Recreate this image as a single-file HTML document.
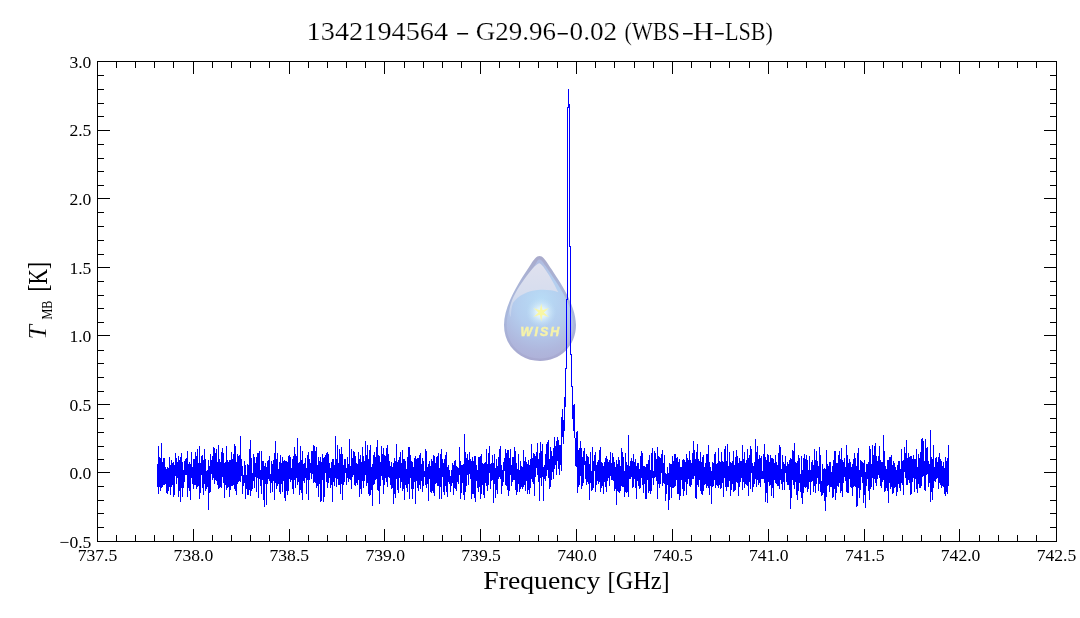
<!DOCTYPE html><html><head><meta charset="utf-8"><style>html,body{margin:0;padding:0;background:#fff;width:1080px;height:618px;overflow:hidden}</style></head><body><svg width="1080" height="618" viewBox="0 0 1080 618" style="display:block;will-change:transform"><rect width="1080" height="618" fill="#fff"/><g>
<defs>
<linearGradient id="lgo" x1="0" y1="256" x2="0" y2="361" gradientUnits="userSpaceOnUse">
<stop offset="0" stop-color="#a9aacb"/><stop offset="0.25" stop-color="#aab4d6"/><stop offset="0.55" stop-color="#a9b8dc"/><stop offset="1" stop-color="#a8a9d0"/>
</linearGradient>
<linearGradient id="lgh" x1="0" y1="262" x2="0" y2="315" gradientUnits="userSpaceOnUse">
<stop offset="0" stop-color="#e0e1ee"/><stop offset="0.6" stop-color="#d6ddee"/><stop offset="1" stop-color="#c4d2ec"/>
</linearGradient>
<radialGradient id="rgc" cx="541" cy="305" r="58" fx="541" fy="300" gradientUnits="userSpaceOnUse">
<stop offset="0" stop-color="#b8dcf6"/><stop offset="0.45" stop-color="#b4cdee"/><stop offset="0.8" stop-color="#afb7dd"/><stop offset="1" stop-color="#aeafd6"/>
</radialGradient>
<radialGradient id="rgs" cx="541.2" cy="312.5" r="15" gradientUnits="userSpaceOnUse">
<stop offset="0" stop-color="#f6fbf0"/><stop offset="0.35" stop-color="#e2f3fa" stop-opacity="0.9"/><stop offset="1" stop-color="#c0e0f8" stop-opacity="0"/>
</radialGradient>
<filter id="fb" x="-20%" y="-20%" width="140%" height="140%"><feGaussianBlur stdDeviation="0.7"/></filter>
<filter id="fb2" x="-20%" y="-20%" width="140%" height="140%"><feGaussianBlur stdDeviation="0.35"/></filter>
</defs>
<path d="M539.5 256 C542.5 256 545 259.5 548 264 C558 279 576 304 576 325 C576 346 560 361 540 361 C520 361 504 346 504 325 C504 304 521 279 531 264 C534 259.5 536.5 256 539.5 256 Z" fill="url(#lgo)"/>
<path d="M539.5 259.4 C541.5 259.4 543 262 545.6 266 C555 280.5 573.4 304 573.4 325 C573.4 344.5 558.5 358.4 540 358.4 C521.5 358.4 506.6 344.5 506.6 325 C506.6 304 525 280.5 534.4 266 C537 262 537.5 259.4 539.5 259.4 Z" fill="url(#rgc)"/>
<path d="M539.3 263.2 C542 263.2 551.5 278 558.3 292.3 C553 290 546 289.5 540 289.8 C528 290.3 517.5 296 513 303 C511.5 307 511 312 510.8 317 C509.8 316 509.4 314 509.4 311 C510 302 516 291 522 282.5 C528.5 273 536.5 263.2 539.3 263.2 Z" fill="url(#lgh)" filter="url(#fb)"/>
<circle cx="541.2" cy="312.5" r="15" fill="url(#rgs)"/>
<path d="M541.20 303.50 L542.55 310.16 L548.99 308.00 L543.90 312.50 L548.99 317.00 L542.55 314.84 L541.20 321.50 L539.85 314.84 L533.41 317.00 L538.50 312.50 L533.41 308.00 L539.85 310.16 Z" fill="#f9f7a4" filter="url(#fb2)"/>
<text x="520.6" y="335.8" font-family="Liberation Sans" font-weight="bold" font-style="italic" font-size="12.4" fill="#f6f2aa" stroke="#f6f2aa" stroke-width="0.5" letter-spacing="2" textLength="40.6" lengthAdjust="spacing" filter="url(#fb2)">WISH</text>
</g><path fill="#0000ff" d="M157 464h1V487h-1zM158 446h1V494h-1zM159 457h1V487h-1zM160 458h1V491h-1zM161 443h1V488h-1zM162 462h1V487h-1zM163 458h1V485h-1zM164 458h1V485h-1zM165 467h1V484h-1zM166 469h1V493h-1zM167 467h1V494h-1zM168 468h1V491h-1zM169 457h1V487h-1zM170 465h1V495h-1zM171 460h1V487h-1zM172 463h1V485h-1zM173 462h1V497h-1zM174 465h1V495h-1zM175 453h1V476h-1zM176 458h1V484h-1zM177 462h1V478h-1zM178 456h1V497h-1zM179 460h1V491h-1zM180 457h1V502h-1zM181 453h1V488h-1zM182 462h1V497h-1zM183 470h1V488h-1zM184 461h1V482h-1zM185 459h1V475h-1zM186 458h1V475h-1zM187 451h1V497h-1zM188 464h1V488h-1zM189 462h1V491h-1zM190 464h1V500h-1zM191 452h1V478h-1zM192 467h1V484h-1zM193 459h1V489h-1zM194 459h1V485h-1zM195 452h1V485h-1zM196 456h1V489h-1zM197 449h1V487h-1zM198 463h1V486h-1zM199 446h1V499h-1zM200 463h1V493h-1zM201 456h1V475h-1zM202 455h1V488h-1zM203 460h1V495h-1zM204 449h1V484h-1zM205 459h1V491h-1zM206 471h1V489h-1zM207 470h1V487h-1zM208 460h1V510h-1zM209 466h1V493h-1zM210 454h1V492h-1zM211 460h1V474h-1zM212 456h1V480h-1zM213 447h1V478h-1zM214 448h1V484h-1zM215 453h1V480h-1zM216 449h1V481h-1zM217 462h1V485h-1zM218 445h1V489h-1zM219 459h1V488h-1zM220 462h1V487h-1zM221 452h1V488h-1zM222 448h1V477h-1zM223 453h1V483h-1zM224 463h1V498h-1zM225 462h1V485h-1zM226 446h1V490h-1zM227 460h1V488h-1zM228 462h1V487h-1zM229 460h1V497h-1zM230 460h1V490h-1zM231 452h1V486h-1zM232 459h1V486h-1zM233 454h1V485h-1zM234 444h1V489h-1zM235 446h1V491h-1zM236 462h1V495h-1zM237 454h1V484h-1zM238 456h1V482h-1zM239 455h1V481h-1zM240 436h1V482h-1zM241 459h1V476h-1zM242 466h1V494h-1zM243 475h1V486h-1zM244 461h1V483h-1zM245 465h1V499h-1zM246 475h1V489h-1zM247 464h1V495h-1zM248 465h1V495h-1zM249 449h1V490h-1zM250 440h1V496h-1zM251 458h1V491h-1zM252 473h1V489h-1zM253 454h1V481h-1zM254 457h1V488h-1zM255 463h1V477h-1zM256 457h1V492h-1zM257 453h1V478h-1zM258 453h1V498h-1zM259 451h1V479h-1zM260 470h1V486h-1zM261 451h1V494h-1zM262 461h1V480h-1zM263 461h1V500h-1zM264 466h1V507h-1zM265 463h1V484h-1zM266 467h1V505h-1zM267 461h1V484h-1zM268 460h1V479h-1zM269 456h1V481h-1zM270 474h1V493h-1zM271 461h1V483h-1zM272 464h1V492h-1zM273 460h1V481h-1zM274 453h1V500h-1zM275 441h1V483h-1zM276 459h1V489h-1zM277 453h1V486h-1zM278 469h1V484h-1zM279 462h1V492h-1zM280 455h1V494h-1zM281 463h1V484h-1zM282 457h1V492h-1zM283 461h1V481h-1zM284 460h1V498h-1zM285 461h1V501h-1zM286 461h1V491h-1zM287 462h1V495h-1zM288 456h1V491h-1zM289 455h1V479h-1zM290 457h1V482h-1zM291 468h1V480h-1zM292 459h1V489h-1zM293 456h1V494h-1zM294 447h1V480h-1zM295 454h1V488h-1zM296 456h1V478h-1zM297 438h1V485h-1zM298 463h1V482h-1zM299 462h1V495h-1zM300 446h1V490h-1zM301 460h1V493h-1zM302 451h1V500h-1zM303 464h1V481h-1zM304 463h1V483h-1zM305 458h1V478h-1zM306 468h1V494h-1zM307 455h1V480h-1zM308 452h1V500h-1zM309 459h1V480h-1zM310 463h1V473h-1zM311 451h1V479h-1zM312 451h1V474h-1zM313 445h1V483h-1zM314 446h1V482h-1zM315 451h1V483h-1zM316 447h1V488h-1zM317 465h1V486h-1zM318 457h1V497h-1zM319 461h1V484h-1zM320 457h1V502h-1zM321 462h1V501h-1zM322 454h1V480h-1zM323 458h1V502h-1zM324 457h1V497h-1zM325 455h1V473h-1zM326 453h1V482h-1zM327 452h1V488h-1zM328 454h1V483h-1zM329 463h1V478h-1zM330 468h1V488h-1zM331 462h1V485h-1zM332 459h1V502h-1zM333 459h1V482h-1zM334 465h1V486h-1zM335 436h1V478h-1zM336 459h1V487h-1zM337 445h1V479h-1zM338 463h1V485h-1zM339 449h1V485h-1zM340 454h1V494h-1zM341 447h1V484h-1zM342 454h1V500h-1zM343 465h1V485h-1zM344 459h1V482h-1zM345 459h1V473h-1zM346 468h1V485h-1zM347 457h1V478h-1zM348 464h1V482h-1zM349 439h1V479h-1zM350 466h1V480h-1zM351 449h1V489h-1zM352 458h1V477h-1zM353 451h1V475h-1zM354 452h1V485h-1zM355 456h1V486h-1zM356 463h1V483h-1zM357 464h1V485h-1zM358 452h1V480h-1zM359 459h1V497h-1zM360 455h1V489h-1zM361 462h1V494h-1zM362 447h1V481h-1zM363 456h1V488h-1zM364 461h1V481h-1zM365 441h1V475h-1zM366 455h1V486h-1zM367 445h1V483h-1zM368 459h1V494h-1zM369 450h1V496h-1zM370 445h1V495h-1zM371 467h1V490h-1zM372 464h1V506h-1zM373 455h1V485h-1zM374 452h1V484h-1zM375 457h1V480h-1zM376 447h1V479h-1zM377 440h1V490h-1zM378 455h1V491h-1zM379 456h1V504h-1zM380 462h1V486h-1zM381 446h1V476h-1zM382 454h1V480h-1zM383 448h1V494h-1zM384 455h1V485h-1zM385 456h1V478h-1zM386 448h1V482h-1zM387 445h1V487h-1zM388 454h1V477h-1zM389 461h1V478h-1zM390 466h1V485h-1zM391 462h1V489h-1zM392 467h1V488h-1zM393 463h1V504h-1zM394 458h1V494h-1zM395 461h1V498h-1zM396 444h1V479h-1zM397 462h1V490h-1zM398 460h1V493h-1zM399 457h1V478h-1zM400 452h1V488h-1zM401 463h1V482h-1zM402 450h1V491h-1zM403 459h1V489h-1zM404 459h1V500h-1zM405 461h1V485h-1zM406 469h1V488h-1zM407 457h1V492h-1zM408 447h1V484h-1zM409 447h1V499h-1zM410 455h1V478h-1zM411 461h1V489h-1zM412 462h1V499h-1zM413 467h1V489h-1zM414 458h1V482h-1zM415 456h1V504h-1zM416 459h1V481h-1zM417 458h1V488h-1zM418 458h1V491h-1zM419 455h1V485h-1zM420 453h1V489h-1zM421 464h1V481h-1zM422 458h1V492h-1zM423 461h1V486h-1zM424 471h1V477h-1zM425 449h1V485h-1zM426 451h1V488h-1zM427 467h1V484h-1zM428 464h1V501h-1zM429 461h1V479h-1zM430 466h1V492h-1zM431 459h1V493h-1zM432 461h1V491h-1zM433 455h1V493h-1zM434 456h1V496h-1zM435 463h1V484h-1zM436 457h1V483h-1zM437 456h1V486h-1zM438 453h1V486h-1zM439 468h1V499h-1zM440 454h1V487h-1zM441 449h1V499h-1zM442 459h1V477h-1zM443 463h1V492h-1zM444 459h1V495h-1zM445 455h1V486h-1zM446 452h1V492h-1zM447 467h1V497h-1zM448 465h1V482h-1zM449 470h1V484h-1zM450 476h1V492h-1zM451 470h1V486h-1zM452 463h1V483h-1zM453 465h1V495h-1zM454 461h1V488h-1zM455 460h1V489h-1zM456 466h1V491h-1zM457 467h1V482h-1zM458 468h1V484h-1zM459 447h1V475h-1zM460 461h1V499h-1zM461 465h1V493h-1zM462 465h1V483h-1zM463 464h1V495h-1zM464 434h1V500h-1zM465 452h1V492h-1zM466 458h1V486h-1zM467 454h1V475h-1zM468 460h1V485h-1zM469 452h1V474h-1zM470 459h1V479h-1zM471 461h1V499h-1zM472 457h1V494h-1zM473 461h1V494h-1zM474 456h1V498h-1zM475 456h1V502h-1zM476 465h1V481h-1zM477 470h1V488h-1zM478 457h1V492h-1zM479 457h1V487h-1zM480 456h1V499h-1zM481 454h1V494h-1zM482 463h1V485h-1zM483 464h1V495h-1zM484 463h1V498h-1zM485 462h1V483h-1zM486 449h1V486h-1zM487 464h1V491h-1zM488 453h1V485h-1zM489 446h1V473h-1zM490 464h1V489h-1zM491 463h1V481h-1zM492 455h1V480h-1zM493 463h1V503h-1zM494 454h1V484h-1zM495 468h1V498h-1zM496 459h1V490h-1zM497 466h1V494h-1zM498 457h1V479h-1zM499 449h1V477h-1zM500 446h1V479h-1zM501 465h1V494h-1zM502 470h1V486h-1zM503 462h1V482h-1zM504 458h1V471h-1zM505 449h1V485h-1zM506 453h1V486h-1zM507 450h1V490h-1zM508 450h1V496h-1zM509 458h1V491h-1zM510 449h1V475h-1zM511 465h1V486h-1zM512 457h1V482h-1zM513 457h1V480h-1zM514 447h1V480h-1zM515 451h1V490h-1zM516 463h1V495h-1zM517 469h1V492h-1zM518 454h1V484h-1zM519 470h1V492h-1zM520 461h1V489h-1zM521 466h1V487h-1zM522 467h1V489h-1zM523 450h1V487h-1zM524 461h1V485h-1zM525 457h1V491h-1zM526 462h1V481h-1zM527 464h1V494h-1zM528 460h1V490h-1zM529 465h1V494h-1zM530 459h1V488h-1zM531 444h1V479h-1zM532 458h1V482h-1zM533 453h1V484h-1zM534 454h1V496h-1zM535 456h1V477h-1zM536 452h1V468h-1zM537 443h1V475h-1zM538 459h1V482h-1zM539 453h1V501h-1zM540 442h1V478h-1zM541 451h1V486h-1zM542 444h1V477h-1zM543 467h1V501h-1zM544 465h1V479h-1zM545 454h1V481h-1zM546 444h1V476h-1zM547 442h1V470h-1zM548 440h1V478h-1zM549 459h1V489h-1zM550 447h1V487h-1zM551 451h1V480h-1zM552 456h1V472h-1zM553 448h1V479h-1zM554 437h1V469h-1zM555 446h1V465h-1zM556 441h1V475h-1zM557 437h1V461h-1zM558 440h1V469h-1zM559 445h1V475h-1zM560 445h1V465h-1zM561 417h1V471h-1zM562 409h1V437h-1zM563 420h1V444h-1zM564 397h1V431h-1zM565 368h1V407h-1zM566 299h1V369h-1zM567 107h1V300h-1zM568 89h1V108h-1zM569 104h1V247h-1zM570 246h1V355h-1zM571 354h1V387h-1zM572 386h1V419h-1zM573 405h1V431h-1zM574 404h1V438h-1zM575 438h1V466h-1zM576 432h1V467h-1zM577 431h1V493h-1zM578 450h1V487h-1zM579 448h1V485h-1zM580 441h1V476h-1zM581 448h1V489h-1zM582 457h1V486h-1zM583 451h1V483h-1zM584 448h1V465h-1zM585 461h1V479h-1zM586 454h1V485h-1zM587 456h1V482h-1zM588 457h1V484h-1zM589 464h1V500h-1zM590 452h1V483h-1zM591 471h1V491h-1zM592 447h1V490h-1zM593 461h1V488h-1zM594 455h1V471h-1zM595 452h1V492h-1zM596 465h1V485h-1zM597 462h1V481h-1zM598 460h1V484h-1zM599 450h1V482h-1zM600 447h1V492h-1zM601 462h1V488h-1zM602 463h1V486h-1zM603 466h1V494h-1zM604 462h1V482h-1zM605 458h1V487h-1zM606 456h1V492h-1zM607 459h1V481h-1zM608 462h1V478h-1zM609 460h1V486h-1zM610 452h1V476h-1zM611 463h1V480h-1zM612 453h1V480h-1zM613 457h1V481h-1zM614 462h1V491h-1zM615 467h1V489h-1zM616 460h1V505h-1zM617 464h1V491h-1zM618 457h1V492h-1zM619 460h1V493h-1zM620 466h1V491h-1zM621 448h1V486h-1zM622 452h1V487h-1zM623 457h1V487h-1zM624 471h1V497h-1zM625 453h1V492h-1zM626 462h1V493h-1zM627 465h1V492h-1zM628 435h1V497h-1zM629 466h1V479h-1zM630 461h1V479h-1zM631 458h1V477h-1zM632 461h1V488h-1zM633 454h1V487h-1zM634 462h1V479h-1zM635 459h1V488h-1zM636 466h1V499h-1zM637 463h1V481h-1zM638 463h1V486h-1zM639 469h1V489h-1zM640 456h1V488h-1zM641 451h1V478h-1zM642 453h1V485h-1zM643 466h1V493h-1zM644 466h1V484h-1zM645 467h1V499h-1zM646 464h1V499h-1zM647 464h1V480h-1zM648 460h1V493h-1zM649 455h1V491h-1zM650 470h1V494h-1zM651 453h1V491h-1zM652 448h1V478h-1zM653 471h1V485h-1zM654 451h1V478h-1zM655 453h1V477h-1zM656 459h1V481h-1zM657 447h1V499h-1zM658 456h1V484h-1zM659 457h1V488h-1zM660 458h1V484h-1zM661 454h1V473h-1zM662 450h1V486h-1zM663 463h1V483h-1zM664 455h1V484h-1zM665 473h1V501h-1zM666 474h1V494h-1zM667 467h1V485h-1zM668 473h1V510h-1zM669 463h1V500h-1zM670 464h1V487h-1zM671 464h1V498h-1zM672 456h1V488h-1zM673 461h1V488h-1zM674 454h1V487h-1zM675 454h1V486h-1zM676 458h1V480h-1zM677 457h1V494h-1zM678 462h1V494h-1zM679 459h1V500h-1zM680 467h1V496h-1zM681 467h1V480h-1zM682 460h1V489h-1zM683 459h1V496h-1zM684 460h1V491h-1zM685 462h1V482h-1zM686 454h1V495h-1zM687 458h1V484h-1zM688 460h1V479h-1zM689 451h1V486h-1zM690 460h1V487h-1zM691 463h1V485h-1zM692 453h1V479h-1zM693 441h1V479h-1zM694 450h1V476h-1zM695 459h1V498h-1zM696 452h1V499h-1zM697 444h1V485h-1zM698 459h1V487h-1zM699 461h1V480h-1zM700 452h1V491h-1zM701 462h1V494h-1zM702 457h1V495h-1zM703 455h1V491h-1zM704 467h1V485h-1zM705 463h1V484h-1zM706 454h1V488h-1zM707 454h1V486h-1zM708 445h1V488h-1zM709 462h1V495h-1zM710 467h1V486h-1zM711 471h1V504h-1zM712 462h1V487h-1zM713 463h1V486h-1zM714 454h1V480h-1zM715 452h1V488h-1zM716 464h1V485h-1zM717 463h1V486h-1zM718 448h1V488h-1zM719 461h1V485h-1zM720 462h1V489h-1zM721 452h1V488h-1zM722 461h1V483h-1zM723 462h1V497h-1zM724 449h1V478h-1zM725 446h1V487h-1zM726 461h1V491h-1zM727 444h1V487h-1zM728 466h1V487h-1zM729 452h1V481h-1zM730 462h1V496h-1zM731 463h1V490h-1zM732 461h1V484h-1zM733 451h1V492h-1zM734 465h1V491h-1zM735 457h1V490h-1zM736 450h1V482h-1zM737 456h1V483h-1zM738 463h1V496h-1zM739 458h1V487h-1zM740 461h1V482h-1zM741 461h1V478h-1zM742 445h1V490h-1zM743 459h1V482h-1zM744 452h1V488h-1zM745 463h1V484h-1zM746 460h1V485h-1zM747 449h1V486h-1zM748 458h1V496h-1zM749 455h1V482h-1zM750 446h1V489h-1zM751 449h1V473h-1zM752 463h1V492h-1zM753 466h1V487h-1zM754 462h1V484h-1zM755 439h1V479h-1zM756 452h1V487h-1zM757 446h1V480h-1zM758 459h1V485h-1zM759 455h1V483h-1zM760 458h1V487h-1zM761 456h1V479h-1zM762 471h1V479h-1zM763 454h1V479h-1zM764 444h1V483h-1zM765 457h1V502h-1zM766 460h1V493h-1zM767 454h1V503h-1zM768 455h1V482h-1zM769 462h1V486h-1zM770 455h1V485h-1zM771 458h1V496h-1zM772 458h1V488h-1zM773 459h1V498h-1zM774 463h1V480h-1zM775 455h1V483h-1zM776 462h1V484h-1zM777 465h1V486h-1zM778 453h1V486h-1zM779 445h1V489h-1zM780 447h1V480h-1zM781 469h1V484h-1zM782 455h1V490h-1zM783 462h1V482h-1zM784 464h1V490h-1zM785 456h1V473h-1zM786 466h1V482h-1zM787 462h1V485h-1zM788 464h1V485h-1zM789 460h1V490h-1zM790 458h1V509h-1zM791 459h1V498h-1zM792 450h1V480h-1zM793 451h1V485h-1zM794 443h1V489h-1zM795 462h1V482h-1zM796 463h1V495h-1zM797 461h1V500h-1zM798 455h1V491h-1zM799 458h1V483h-1zM800 474h1V492h-1zM801 456h1V498h-1zM802 470h1V504h-1zM803 458h1V493h-1zM804 454h1V487h-1zM805 459h1V488h-1zM806 455h1V487h-1zM807 460h1V492h-1zM808 470h1V489h-1zM809 456h1V482h-1zM810 470h1V495h-1zM811 462h1V482h-1zM812 460h1V481h-1zM813 465h1V492h-1zM814 449h1V486h-1zM815 460h1V493h-1zM816 451h1V484h-1zM817 461h1V478h-1zM818 466h1V491h-1zM819 447h1V484h-1zM820 455h1V492h-1zM821 481h1V496h-1zM822 464h1V495h-1zM823 469h1V493h-1zM824 468h1V501h-1zM825 469h1V511h-1zM826 450h1V497h-1zM827 464h1V486h-1zM828 466h1V485h-1zM829 462h1V492h-1zM830 462h1V487h-1zM831 472h1V487h-1zM832 466h1V498h-1zM833 460h1V497h-1zM834 451h1V489h-1zM835 451h1V500h-1zM836 463h1V493h-1zM837 463h1V486h-1zM838 455h1V487h-1zM839 451h1V483h-1zM840 459h1V493h-1zM841 448h1V491h-1zM842 460h1V497h-1zM843 462h1V483h-1zM844 458h1V477h-1zM845 467h1V481h-1zM846 445h1V492h-1zM847 455h1V493h-1zM848 463h1V493h-1zM849 459h1V479h-1zM850 462h1V487h-1zM851 467h1V488h-1zM852 464h1V496h-1zM853 459h1V487h-1zM854 453h1V486h-1zM855 458h1V487h-1zM856 466h1V507h-1zM857 453h1V506h-1zM858 448h1V488h-1zM859 470h1V498h-1zM860 460h1V490h-1zM861 461h1V477h-1zM862 462h1V483h-1zM863 463h1V503h-1zM864 460h1V495h-1zM865 472h1V508h-1zM866 464h1V486h-1zM867 464h1V479h-1zM868 462h1V491h-1zM869 446h1V500h-1zM870 449h1V489h-1zM871 464h1V487h-1zM872 445h1V478h-1zM873 455h1V490h-1zM874 446h1V479h-1zM875 443h1V483h-1zM876 456h1V486h-1zM877 461h1V479h-1zM878 456h1V475h-1zM879 446h1V478h-1zM880 460h1V486h-1zM881 462h1V488h-1zM882 462h1V482h-1zM883 435h1V480h-1zM884 451h1V492h-1zM885 466h1V491h-1zM886 469h1V488h-1zM887 460h1V491h-1zM888 460h1V503h-1zM889 457h1V483h-1zM890 457h1V489h-1zM891 455h1V487h-1zM892 465h1V494h-1zM893 461h1V493h-1zM894 463h1V488h-1zM895 467h1V487h-1zM896 470h1V496h-1zM897 465h1V492h-1zM898 461h1V484h-1zM899 461h1V488h-1zM900 469h1V491h-1zM901 449h1V483h-1zM902 461h1V485h-1zM903 460h1V495h-1zM904 447h1V472h-1zM905 453h1V478h-1zM906 440h1V485h-1zM907 458h1V485h-1zM908 453h1V480h-1zM909 457h1V483h-1zM910 456h1V495h-1zM911 456h1V494h-1zM912 459h1V482h-1zM913 455h1V478h-1zM914 459h1V492h-1zM915 459h1V479h-1zM916 449h1V489h-1zM917 467h1V493h-1zM918 454h1V484h-1zM919 458h1V488h-1zM920 452h1V488h-1zM921 439h1V486h-1zM922 438h1V477h-1zM923 441h1V476h-1zM924 461h1V490h-1zM925 439h1V491h-1zM926 448h1V475h-1zM927 447h1V474h-1zM928 461h1V487h-1zM929 464h1V483h-1zM930 430h1V502h-1zM931 457h1V492h-1zM932 459h1V500h-1zM933 445h1V488h-1zM934 467h1V481h-1zM935 458h1V482h-1zM936 457h1V479h-1zM937 462h1V478h-1zM938 457h1V489h-1zM939 453h1V483h-1zM940 459h1V485h-1zM941 461h1V488h-1zM942 466h1V486h-1zM943 462h1V487h-1zM944 468h1V494h-1zM945 457h1V496h-1zM946 461h1V492h-1zM947 458h1V494h-1zM948 445h1V486h-1z"/><path fill="#000" d="M116 535h1v6h-1zM116 62h1v6h-1zM135 535h1v6h-1zM135 62h1v6h-1zM154 535h1v6h-1zM154 62h1v6h-1zM173 535h1v6h-1zM173 62h1v6h-1zM193 529h1v12h-1zM193 62h1v12h-1zM212 535h1v6h-1zM212 62h1v6h-1zM231 535h1v6h-1zM231 62h1v6h-1zM250 535h1v6h-1zM250 62h1v6h-1zM269 535h1v6h-1zM269 62h1v6h-1zM289 529h1v12h-1zM289 62h1v12h-1zM308 535h1v6h-1zM308 62h1v6h-1zM327 535h1v6h-1zM327 62h1v6h-1zM346 535h1v6h-1zM346 62h1v6h-1zM365 535h1v6h-1zM365 62h1v6h-1zM384 529h1v12h-1zM384 62h1v12h-1zM404 535h1v6h-1zM404 62h1v6h-1zM423 535h1v6h-1zM423 62h1v6h-1zM442 535h1v6h-1zM442 62h1v6h-1zM461 535h1v6h-1zM461 62h1v6h-1zM480 529h1v12h-1zM480 62h1v12h-1zM499 535h1v6h-1zM499 62h1v6h-1zM519 535h1v6h-1zM519 62h1v6h-1zM538 535h1v6h-1zM538 62h1v6h-1zM557 535h1v6h-1zM557 62h1v6h-1zM576 529h1v12h-1zM576 62h1v12h-1zM595 535h1v6h-1zM595 62h1v6h-1zM614 535h1v6h-1zM614 62h1v6h-1zM634 535h1v6h-1zM634 62h1v6h-1zM653 535h1v6h-1zM653 62h1v6h-1zM672 529h1v12h-1zM672 62h1v12h-1zM691 535h1v6h-1zM691 62h1v6h-1zM710 535h1v6h-1zM710 62h1v6h-1zM729 535h1v6h-1zM729 62h1v6h-1zM749 535h1v6h-1zM749 62h1v6h-1zM768 529h1v12h-1zM768 62h1v12h-1zM787 535h1v6h-1zM787 62h1v6h-1zM806 535h1v6h-1zM806 62h1v6h-1zM825 535h1v6h-1zM825 62h1v6h-1zM844 535h1v6h-1zM844 62h1v6h-1zM864 529h1v12h-1zM864 62h1v12h-1zM883 535h1v6h-1zM883 62h1v6h-1zM902 535h1v6h-1zM902 62h1v6h-1zM921 535h1v6h-1zM921 62h1v6h-1zM940 535h1v6h-1zM940 62h1v6h-1zM959 529h1v12h-1zM959 62h1v12h-1zM979 535h1v6h-1zM979 62h1v6h-1zM998 535h1v6h-1zM998 62h1v6h-1zM1017 535h1v6h-1zM1017 62h1v6h-1zM1036 535h1v6h-1zM1036 62h1v6h-1zM98 75h6v1h-6zM1050 75h6v1h-6zM98 89h6v1h-6zM1050 89h6v1h-6zM98 103h6v1h-6zM1050 103h6v1h-6zM98 116h6v1h-6zM1050 116h6v1h-6zM98 130h12v1h-12zM1044 130h12v1h-12zM98 144h6v1h-6zM1050 144h6v1h-6zM98 158h6v1h-6zM1050 158h6v1h-6zM98 171h6v1h-6zM1050 171h6v1h-6zM98 185h6v1h-6zM1050 185h6v1h-6zM98 198h12v1h-12zM1044 198h12v1h-12zM98 212h6v1h-6zM1050 212h6v1h-6zM98 226h6v1h-6zM1050 226h6v1h-6zM98 240h6v1h-6zM1050 240h6v1h-6zM98 254h6v1h-6zM1050 254h6v1h-6zM98 267h12v1h-12zM1044 267h12v1h-12zM98 281h6v1h-6zM1050 281h6v1h-6zM98 295h6v1h-6zM1050 295h6v1h-6zM98 308h6v1h-6zM1050 308h6v1h-6zM98 322h6v1h-6zM1050 322h6v1h-6zM98 335h12v1h-12zM1044 335h12v1h-12zM98 350h6v1h-6zM1050 350h6v1h-6zM98 363h6v1h-6zM1050 363h6v1h-6zM98 377h6v1h-6zM1050 377h6v1h-6zM98 391h6v1h-6zM1050 391h6v1h-6zM98 404h12v1h-12zM1044 404h12v1h-12zM98 418h6v1h-6zM1050 418h6v1h-6zM98 432h6v1h-6zM1050 432h6v1h-6zM98 446h6v1h-6zM1050 446h6v1h-6zM98 459h6v1h-6zM1050 459h6v1h-6zM98 472h12v1h-12zM1044 472h12v1h-12zM98 486h6v1h-6zM1050 486h6v1h-6zM98 500h6v1h-6zM1050 500h6v1h-6zM98 513h6v1h-6zM1050 513h6v1h-6zM98 527h6v1h-6zM1050 527h6v1h-6zM97 61h960v1h-960zM97 541h960v1h-960zM97 61h1v481h-1zM1056 61h1v481h-1z"/><g font-family="Liberation Serif" fill="#000"><text x="97.5" y="561.2" text-anchor="middle" font-size="17.6">737.5</text><text x="193.4" y="561.2" text-anchor="middle" font-size="17.6">738.0</text><text x="289.3" y="561.2" text-anchor="middle" font-size="17.6">738.5</text><text x="385.2" y="561.2" text-anchor="middle" font-size="17.6">739.0</text><text x="481.1" y="561.2" text-anchor="middle" font-size="17.6">739.5</text><text x="577.0" y="561.2" text-anchor="middle" font-size="17.6">740.0</text><text x="672.9" y="561.2" text-anchor="middle" font-size="17.6">740.5</text><text x="768.8" y="561.2" text-anchor="middle" font-size="17.6">741.0</text><text x="864.7" y="561.2" text-anchor="middle" font-size="17.6">741.5</text><text x="960.6" y="561.2" text-anchor="middle" font-size="17.6">742.0</text><text x="1056.5" y="561.2" text-anchor="middle" font-size="17.6">742.5</text><text x="91.4" y="547.8" text-anchor="end" font-size="17.6">−0.5</text><text x="91.4" y="479.2" text-anchor="end" font-size="17.6">0.0</text><text x="91.4" y="410.7" text-anchor="end" font-size="17.6">0.5</text><text x="91.4" y="342.1" text-anchor="end" font-size="17.6">1.0</text><text x="91.4" y="273.5" text-anchor="end" font-size="17.6">1.5</text><text x="91.4" y="204.9" text-anchor="end" font-size="17.6">2.0</text><text x="91.4" y="136.4" text-anchor="end" font-size="17.6">2.5</text><text x="91.4" y="67.8" text-anchor="end" font-size="17.6">3.0</text></g><g fill="#000"><text font-family="Liberation Serif" x="306.6" y="40" font-size="26" textLength="141.60" lengthAdjust="spacingAndGlyphs" stroke="#fff" stroke-width="0.2">1342194564</text><text font-family="Liberation Serif" x="475.8" y="40" font-size="26" textLength="80.20" lengthAdjust="spacingAndGlyphs" stroke="#fff" stroke-width="0.2">G29.96</text><text font-family="Liberation Serif" x="569.6" y="40" font-size="26" textLength="47.60" lengthAdjust="spacingAndGlyphs" stroke="#fff" stroke-width="0.2">0.02</text><text font-family="Liberation Serif" x="624.6" y="40" font-size="26" textLength="55.20" lengthAdjust="spacingAndGlyphs" stroke="#fff" stroke-width="0.2">(WBS</text><text font-family="Liberation Serif" x="692.8" y="40" font-size="26" textLength="21.00" lengthAdjust="spacingAndGlyphs" stroke="#fff" stroke-width="0.2">H</text><text font-family="Liberation Serif" x="724.9" y="40" font-size="26" textLength="48.10" lengthAdjust="spacingAndGlyphs" stroke="#fff" stroke-width="0.2">LSB)</text><rect x="457.2" y="33.0" width="10.9" height="1.5"/><rect x="557.6" y="33.0" width="10.2" height="1.5"/><rect x="683" y="33.0" width="9.6" height="1.5"/><rect x="714.8" y="33.0" width="8.9" height="1.5"/></g><text font-family="Liberation Serif" x="483.3" y="589" font-size="26" textLength="117.00" lengthAdjust="spacingAndGlyphs" stroke="#fff" stroke-width="0">Frequency</text><text font-family="Liberation Serif" x="607.6" y="589" font-size="26" textLength="62.00" lengthAdjust="spacingAndGlyphs" stroke="#fff" stroke-width="0">[GHz]</text><g transform="translate(46.3 337.8) rotate(-90)" font-family="Liberation Serif" stroke="#fff" stroke-width="0.2"><text x="-1.8" y="0" font-size="26" font-style="italic">T</text><text x="18.3" y="5.8" font-size="15" textLength="18.8" lengthAdjust="spacingAndGlyphs" stroke-width="0">MB</text><text x="46.2" y="0.3" font-size="27" textLength="29.6" lengthAdjust="spacingAndGlyphs" stroke-width="0">[K]</text></g></svg></body></html>
